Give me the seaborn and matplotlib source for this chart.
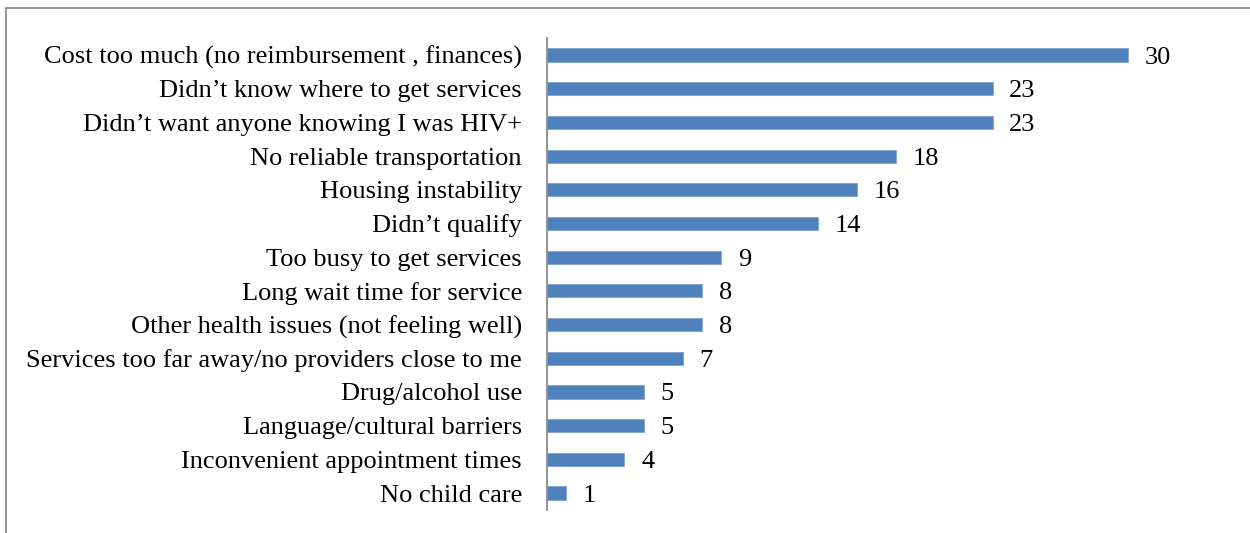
import matplotlib
matplotlib.use("Agg")
import matplotlib.pyplot as plt
import seaborn as sns
import pandas as pd
from matplotlib.patches import Rectangle

reasons = [
    "Cost too much (no reimbursement , finances)",
    "Didn\u2019t know where to get services",
    "Didn\u2019t want anyone knowing I was HIV+",
    "No reliable transportation",
    "Housing instability",
    "Didn\u2019t qualify",
    "Too busy to get services",
    "Long wait time for service",
    "Other health issues (not feeling well)",
    "Services too far away/no providers close to me",
    "Drug/alcohol use",
    "Language/cultural barriers",
    "Inconvenient appointment times",
    "No child care",
]
counts = [30, 23, 23, 18, 16, 14, 9, 8, 8, 7, 5, 5, 4, 1]

df = pd.DataFrame({"reason": reasons, "count": counts})

sns.set_theme(style="white")
plt.rcParams["font.family"] = ["Liberation Serif", "DejaVu Serif"]

fig = plt.figure(figsize=(12.5, 5.33), dpi=100)
ax = fig.add_axes([0.4376, 0.0434, 0.5114, 0.885])

sns.barplot(data=df, x="count", y="reason", orient="h", color="#4F81BD",
            saturation=1, width=0.39, edgecolor="#7FA3D1", linewidth=0.6, ax=ax)

ax.set_xlim(0, 33)
ax.set_ylim(13.5, -0.5)
ax.set_xlabel("")
ax.set_ylabel("")
ax.set_xticks([])
for side in ("top", "right", "bottom"):
    ax.spines[side].set_visible(False)
ax.spines["left"].set_color("#8C8C8C")
ax.spines["left"].set_linewidth(1.3)
ax.tick_params(axis="y", length=0, pad=18, labelsize=19, colors="black")

texts = ax.bar_label(ax.containers[0], labels=[str(v) for v in counts],
                     padding=12, fontsize=19, color="black")
for t in texts:
    t.set_verticalalignment("center_baseline")

# outer frame around the chart area
fig.patches.append(Rectangle((6 / 1250, -0.1), 1.2, 1 - 8 / 533 + 0.1,
                             transform=fig.transFigure, fill=False,
                             edgecolor="#8C8C8C", linewidth=1.3))

fig.savefig("out.png", dpi=100, facecolor="white")
